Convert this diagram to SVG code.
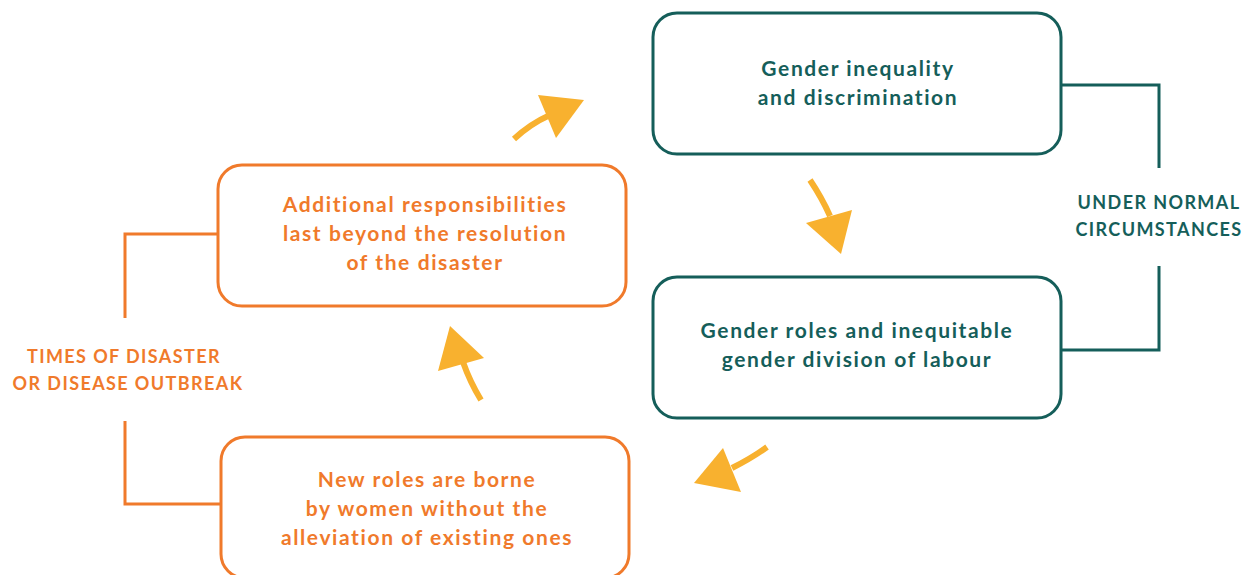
<svg xmlns="http://www.w3.org/2000/svg" width="1253" height="575" viewBox="0 0 1253 575">
  <defs>
    <style>
      .teal-box { fill: #ffffff; stroke: #155e5a; stroke-width: 3; }
      .orange-box { fill: #ffffff; stroke: #f07a2b; stroke-width: 3; }
      .teal-line { fill: none; stroke: #155e5a; stroke-width: 3; }
      .orange-line { fill: none; stroke: #f07a2b; stroke-width: 3; }
      .arrow-tail { fill: none; stroke: #f8b12f; stroke-width: 6; }
      .arrow-head { fill: #f8b12f; }
      .label { font-family: Lato, "Open Sans", sans-serif; font-weight: bold; font-size: 21px; text-anchor: middle; letter-spacing: 1.6px; }
      .side { font-family: Lato, "Open Sans", sans-serif; font-weight: bold; font-size: 18px; text-anchor: middle; letter-spacing: 1.4px; }
      .teal { fill: #155e5a; }
      .orange { fill: #f07a2b; }
    </style>
  </defs>

  <!-- Side brackets -->
  <g id="normal-circumstances">
    <polyline class="teal-line" points="1061,85 1159,85 1159,168"/>
    <polyline class="teal-line" points="1159,266 1159,350 1061,350"/>
    <text class="side teal" x="1159" y="209">UNDER NORMAL</text>
    <text class="side teal" x="1159" y="236">CIRCUMSTANCES</text>
  </g>
  <g id="disaster-times">
    <polyline class="orange-line" points="218,234 125,234 125,318"/>
    <polyline class="orange-line" points="125,421 125,504 221,504"/>
    <text class="side orange" x="124" y="363">TIMES OF DISASTER</text>
    <text class="side orange" x="128" y="390">OR DISEASE OUTBREAK</text>
  </g>

  <!-- Nodes -->
  <g id="inequality">
    <rect class="teal-box" x="653" y="13" width="408" height="141" rx="24"/>
    <text class="label teal" x="858" y="76">Gender inequality</text>
    <text class="label teal" x="858" y="105">and discrimination</text>
  </g>
  <g id="gender-roles">
    <rect class="teal-box" x="653" y="277" width="408" height="141" rx="24"/>
    <text class="label teal" x="857" y="338">Gender roles and inequitable</text>
    <text class="label teal" x="857" y="367">gender division of labour</text>
  </g>
  <g id="new-roles">
    <rect class="orange-box" x="221" y="437" width="408" height="141" rx="24"/>
    <text class="label orange" x="427" y="487">New roles are borne</text>
    <text class="label orange" x="427" y="516">by women without the</text>
    <text class="label orange" x="427" y="545">alleviation of existing ones</text>
  </g>
  <g id="additional-responsibilities">
    <rect class="orange-box" x="218" y="165" width="408" height="141" rx="24"/>
    <text class="label orange" x="425" y="212">Additional responsibilities</text>
    <text class="label orange" x="425" y="241">last beyond the resolution</text>
    <text class="label orange" x="425" y="270">of the disaster</text>
  </g>

  <!-- Cycle arrows -->
  <g id="connectors">
    <path class="arrow-tail" d="M514,139 Q530,124 550,115"/>
    <polygon class="arrow-head" points="538,95 584,100 556,138"/>

    <path class="arrow-tail" d="M810,180 Q822,198 830,216"/>
    <polygon class="arrow-head" points="806,223 852,210 841,254"/>

    <path class="arrow-tail" d="M767,447 Q752,458 732,468"/>
    <polygon class="arrow-head" points="723,448 694,483 741,492"/>

    <path class="arrow-tail" d="M481,400 Q470,382 463,362"/>
    <polygon class="arrow-head" points="450,326 484,358 438,371"/>
  </g>
</svg>
